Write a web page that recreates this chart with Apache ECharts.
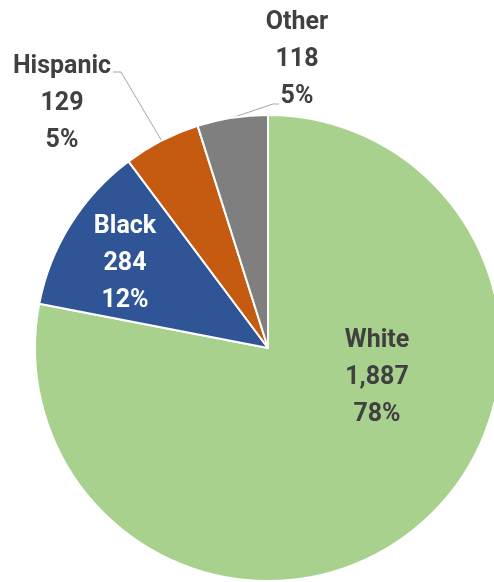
<!DOCTYPE html>
<html>
<head>
<meta charset="utf-8">
<script src="https://cdn.jsdelivr.net/npm/echarts@6/dist/echarts.min.js"></script>
<style>
  html, body { margin: 0; padding: 0; background: #ffffff; }
  #chart { width: 494px; height: 582px; }
</style>
</head>
<body>
<div id="chart"></div>
<script>
// Population by group
const categories = ['White', 'Black', 'Hispanic', 'Other'];
const counts = [1887, 284, 129, 118];
const sliceColors = ['#a9d18e', '#2f5597', '#c55a11', '#7f7f7f'];
const labelColors = ['#404040', '#ffffff', '#404040', '#404040'];

// Label block centres, as offsets from the pie centre
const labelOffsets = [[109, 30], [-143, -84], [-206, -244], [29, -288]];
// Leader line bend/end points relative to the label centre (outside labels only)
const leaderBends = [null, null, [[59, -32], [51, -32]], [[-24, 44], [-18, 44]]];

const CX = 268, CY = 348, R = 233;
const FONT = "Roboto, 'DejaVu Sans Condensed', sans-serif";

const chart = echarts.init(document.getElementById('chart'), null, { renderer: 'canvas' });

const seriesData = categories.map((name, i) => ({
  name: name,
  value: counts[i],
  itemStyle: { color: sliceColors[i] },
  label: {
    position: leaderBends[i] ? 'outside' : 'inside',
    color: labelColors[i]
  },
  labelLine: { show: !!leaderBends[i] }
}));

chart.setOption({
  animation: false,
  backgroundColor: '#ffffff',
  series: [{
    type: 'pie',
    center: [CX, CY],
    radius: R,
    startAngle: 90,
    clockwise: true,
    percentPrecision: 0,
    avoidLabelOverlap: false,
    itemStyle: { borderColor: '#ffffff', borderWidth: 2 },
    label: {
      show: true,
      fontFamily: FONT,
      fontWeight: 'bold',
      fontSize: 25,
      lineHeight: 37,
      align: 'center',
      formatter: p => p.name + '\n' + p.value.toLocaleString('en-US') + '\n' + p.percent + '%'
    },
    labelLine: {
      lineStyle: { color: '#a6a6a6', width: 1 }
    },
    labelLayout: function (params) {
      const i = params.dataIndex;
      const x = CX + labelOffsets[i][0];
      const y = CY + labelOffsets[i][1];
      const out = { x: x, y: y, align: 'center', verticalAlign: 'middle' };
      if (leaderBends[i] && params.labelLinePoints) {
        const start = params.labelLinePoints[0];
        out.labelLinePoints = [
          start,
          [x + leaderBends[i][0][0], y + leaderBends[i][0][1]],
          [x + leaderBends[i][1][0], y + leaderBends[i][1][1]]
        ];
      }
      return out;
    },
    data: seriesData
  }]
});
</script>
</body>
</html>
